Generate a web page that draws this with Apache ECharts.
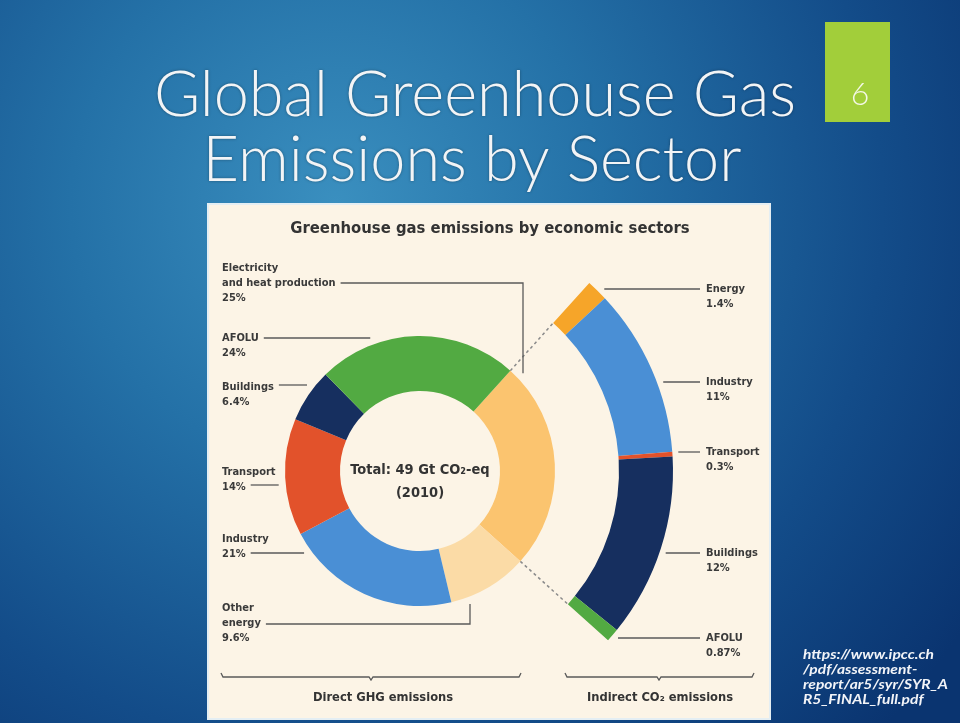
<!DOCTYPE html>
<html><head><meta charset="utf-8">
<script src="https://cdn.jsdelivr.net/npm/echarts@6/dist/echarts.min.js"></script>
<style>html,body{margin:0;padding:0;overflow:hidden;background:#14508b}#c{width:960px;height:723px}</style>
</head><body><div id="c"></div>
<script>
// ---------- data ----------
const directNames = ['Electricity\nand heat production', 'Other\nenergy', 'Industry', 'Transport', 'Buildings', 'AFOLU'];
const directValues = [25, 9.6, 21, 14, 6.4, 24];
const indirectNames = ['Energy', 'Industry', 'Transport', 'Buildings', 'AFOLU'];
const indirectValues = [1.4, 11, 0.3, 12, 0.87];
const slideTitle1 = 'Global Greenhouse Gas';
const slideTitle2 = 'Emissions by Sector';
const slideNumber = '6';
const chartTitle = 'Greenhouse gas emissions by economic sectors';
const centerText = 'Total: 49 Gt CO\u2082-eq\n(2010)';
const groupLabels = ['Direct GHG emissions', 'Indirect CO\u2082 emissions'];
const sourceText = 'https://www.ipcc.ch\n/pdf/assessment-\nreport/ar5/syr/SYR_A\nR5_FINAL_full.pdf';

// ---------- styles / layout ----------
const directColors = ['#FBC46F', '#FBDBA6', '#4A8FD5', '#E2522B', '#162F5F', '#52AA42'];
const indirectColors = ['#F6A529', '#4A8FD5', '#E2522B', '#162F5F', '#52AA42'];
const CX = 420, CY = 471, R0 = 80, R1 = 135, A0 = 199, A1 = 253;
const START = 48;
const NARROW = '"Liberation Sans Narrow","DejaVu Sans Condensed",sans-serif';
const LFS = 11;
const LH = 15;
const directLayout = [
  {top: 260.5, lineY: 283, bendX: 523},
  {top: 600.5, lineY: 624, bendX: 470},
  {top: 532, lineY: 553},
  {top: 464.5, lineY: 485},
  {top: 379.5, lineY: 385},
  {top: 330.5, lineY: 338}
];
const indirectLayout = [289, 382, 452, 553, 638];

const mctx = document.createElement('canvas').getContext('2d');
function textW(s) { mctx.font = 'bold ' + LFS + 'px ' + NARROW; return mctx.measureText(s).width; }
function ringX(r, y, side) { const dy = y - CY; return CX + side * Math.sqrt(Math.max(0, r * r - dy * dy)); }
function ringY(r, x, side) { const dx = x - CX; return CY + side * Math.sqrt(Math.max(0, r * r - dx * dx)); }
function pt(r, a) { return [CX + r * Math.sin(a), CY - r * Math.cos(a)]; }

const directSum = directValues.reduce((a, b) => a + b, 0);
const ang0 = (90 - START) * Math.PI / 180;
const ang1 = ang0 + directValues[0] / directSum * 2 * Math.PI;

const chart = echarts.init(document.getElementById('c'), null, {renderer: 'canvas'});

const fmt = p => p.name + '\n' + p.value + '%';
const labelStyle = {
  show: true, fontFamily: NARROW, fontSize: LFS, fontWeight: 'bold', color: '#3a3a3a',
  lineHeight: LH, formatter: fmt
};

const lineCol = '#5a5a5a';
const titleStyle = {fontFamily: 'Lato', fontWeight: 300, fontSize: 63, fill: '#F2F4F6', align: 'center', verticalAlign: 'middle', textShadowColor: 'rgba(0,0,0,0.35)', textShadowBlur: 3};
const graphics = [
  {type: 'rect', z: -10, shape: {x: 208, y: 204, width: 562, height: 515}, style: {fill: '#FCF4E6', stroke: '#E4EEF3', lineWidth: 2}},
  {type: 'text', x: 475, y: 96, style: Object.assign({text: slideTitle1}, titleStyle)},
  {type: 'text', x: 472, y: 161, style: Object.assign({text: slideTitle2}, titleStyle)},
  {type: 'rect', shape: {x: 825, y: 22, width: 65, height: 100}, style: {fill: '#A2CE3A'}},
  {type: 'text', x: 860, y: 95, style: {text: slideNumber, fontFamily: 'Lato', fontWeight: 300, fontSize: 32, fill: '#F4F8E6', align: 'center', verticalAlign: 'middle'}},
  {type: 'text', x: 490, y: 229, style: {text: chartTitle, fontFamily: NARROW, fontWeight: 'bold', fontSize: 16.5, fill: '#333', align: 'center', verticalAlign: 'middle'}},
  {type: 'text', x: CX, y: 482, style: {text: centerText, fontFamily: NARROW, fontWeight: 'bold', fontSize: 14.5, lineHeight: 23, fill: '#333', align: 'center', verticalAlign: 'middle'}},
  {type: 'polyline', shape: {points: [pt(R1, ang0), pt(A0, ang0)]}, style: {stroke: '#8a8a8a', lineWidth: 1.5, lineDash: [3, 3]}},
  {type: 'polyline', shape: {points: [pt(R1, ang1), pt(A0, ang1)]}, style: {stroke: '#8a8a8a', lineWidth: 1.5, lineDash: [3, 3]}},
  {type: 'polyline', shape: {points: [[221, 673], [223, 677], [369, 677], [371, 680], [373, 677], [519, 677], [521, 673]]}, style: {stroke: lineCol, lineWidth: 1.3, fill: null}},
  {type: 'polyline', shape: {points: [[565, 673], [567, 677], [657, 677], [659, 680], [661, 677], [752, 677], [754, 673]]}, style: {stroke: lineCol, lineWidth: 1.3, fill: null}},
  {type: 'text', x: 383, y: 698, style: {text: groupLabels[0], fontFamily: NARROW, fontWeight: 'bold', fontSize: 12.8, fill: '#333', align: 'center', verticalAlign: 'middle'}},
  {type: 'text', x: 660, y: 698, style: {text: groupLabels[1], fontFamily: NARROW, fontWeight: 'bold', fontSize: 12.8, fill: '#333', align: 'center', verticalAlign: 'middle'}},
  {type: 'text', x: 803, y: 677, scaleX: 1.2, style: {text: sourceText, fontFamily: 'Lato', fontStyle: 'italic', fontWeight: 'bold', fontSize: 13, lineHeight: 15, fill: '#F2F4F8', align: 'left', verticalAlign: 'middle'}}
];

chart.setOption({
  animation: false,
  backgroundColor: {type: 'radial', x: 0.35, y: 0.28, r: 1.05, colorStops: [
    {offset: 0, color: '#3A8FBF'}, {offset: 0.35, color: '#2471A7'}, {offset: 0.72, color: '#134C89'}, {offset: 1, color: '#0A3470'}]},
  graphic: graphics,
  series: [
    {
      type: 'pie', name: 'Direct GHG emissions', center: [CX, CY], radius: [R0, R1],
      startAngle: START, clockwise: true, avoidLabelOverlap: false, silent: true,
      itemStyle: {borderWidth: 0},
      data: directNames.map((n, i) => ({name: n, value: directValues[i], itemStyle: {color: directColors[i]}})),
      label: labelStyle,
      labelLine: {show: true, lineStyle: {color: lineCol, width: 1.3}},
      labelLayout: function (p) {
        const L = directLayout[p.dataIndex];
        const lines = fmt({name: directNames[p.dataIndex], value: directValues[p.dataIndex]}).split('\n');
        const k = Math.max(0, Math.min(lines.length - 1, Math.round((L.lineY - L.top - LH / 2) / LH)));
        const startX = 222 + textW(lines[k]) + 5;
        let pts;
        if (L.bendX != null) {
          const side = L.lineY > CY ? 1 : -1;
          pts = [[L.bendX, ringY(R1 + 7, L.bendX, side)], [L.bendX, L.lineY], [startX, L.lineY]];
        } else {
          pts = [[ringX(R1 + 7, L.lineY, -1), L.lineY], [startX, L.lineY]];
        }
        return {x: 222, y: L.top, align: 'left', verticalAlign: 'top', labelLinePoints: pts};
      }
    },
    {
      type: 'pie', name: 'Indirect CO2 emissions', center: [CX, CY], radius: [A0, A1],
      startAngle: START, endAngle: START - 90, clockwise: true, avoidLabelOverlap: false, silent: true,
      itemStyle: {borderWidth: 0},
      data: indirectNames.map((n, i) => ({name: n, value: indirectValues[i], itemStyle: {color: indirectColors[i]}})),
      label: labelStyle,
      labelLine: {show: true, lineStyle: {color: lineCol, width: 1.3}},
      labelLayout: function (p) {
        const y = indirectLayout[p.dataIndex];
        const pts = [[ringX(A1 + 6, y, 1), y], [700, y]];
        return {x: 706, y: y - LH / 2, align: 'left', verticalAlign: 'top', labelLinePoints: pts};
      }
    }
  ]
});
</script></body></html>
